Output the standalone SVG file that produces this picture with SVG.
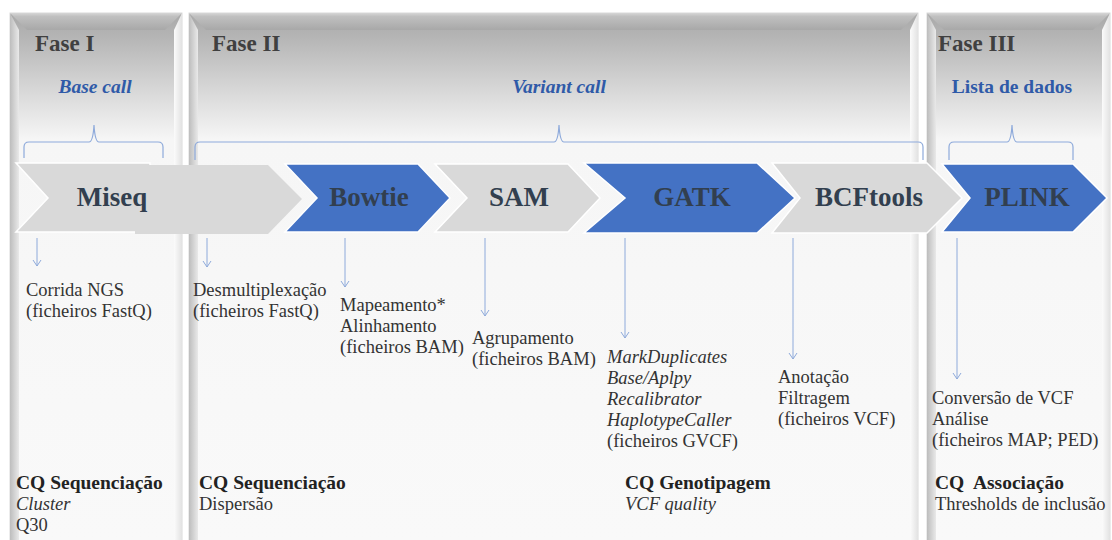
<svg xmlns="http://www.w3.org/2000/svg" width="1112" height="540" viewBox="0 0 1112 540">
<defs>
<linearGradient id="pg" x1="0" y1="13" x2="0" y2="540" gradientUnits="userSpaceOnUse">
<stop offset="0" stop-color="#a9a9a9"/><stop offset="0.04" stop-color="#b3b3b3"/><stop offset="0.13" stop-color="#d2d2d2"/><stop offset="0.24" stop-color="#f6f6f6"/><stop offset="1" stop-color="#f9f9f9"/>
</linearGradient>
<linearGradient id="tb" x1="0" y1="0" x2="0" y2="1">
<stop offset="0" stop-color="#d6d6d6"/><stop offset="0.2" stop-color="#c0c0c0"/><stop offset="1" stop-color="#a8a8a8"/>
</linearGradient>
<linearGradient id="lb" x1="0" y1="0" x2="1" y2="0">
<stop offset="0" stop-color="#bdbdbd"/><stop offset="1" stop-color="#e9e9e9"/>
</linearGradient>
<linearGradient id="rb" x1="0" y1="0" x2="1" y2="0">
<stop offset="0" stop-color="#fbfbfb"/><stop offset="1" stop-color="#e2e2e2"/>
</linearGradient>
<marker id="ah" viewBox="0 0 10 10" refX="9" refY="5" markerWidth="10" markerHeight="10" markerUnits="userSpaceOnUse" orient="auto">
<path d="M3,1 L9,5 L3,9" fill="none" stroke="#8eaadb" stroke-width="1"/>
</marker>
</defs>
<style>
text{font-family:"Liberation Serif","Times New Roman",serif;fill:#333333}
.ph{font-size:23px;font-weight:bold;fill:#404040}
.sub{font-size:19.5px;font-weight:bold;fill:#2f5aa8}
.it{font-style:italic}
.cl{font-size:27px;font-weight:bold;fill:#323f4f}
.b{font-size:18.5px}
.bb{font-size:19.5px;font-weight:bold;fill:#222222}
.gray{fill:#d9d9d9;stroke:#ffffff;stroke-width:1.5}
.blue{fill:#4472c4;stroke:#ffffff;stroke-width:1.5}
.brace{fill:none;stroke:#8eaadb;stroke-width:1.2}
.arr{stroke:#8eaadb;stroke-width:1;marker-end:url(#ah)}
</style>
<rect width="1112" height="540" fill="#ffffff"/>

<g id="fase1">
<rect x="10" y="13" width="172" height="540" fill="url(#pg)" stroke="#d9d9d9"/>
<polygon points="10,13 19,30 19,540 10,540" fill="url(#lb)"/>
<polygon points="182,13 174,30 174,540 182,540" fill="url(#rb)"/>
<polygon points="10,13 182,13 165,30 27,30" fill="url(#tb)"/>
<text class="ph" x="35" y="51">Fase I</text>
<text class="sub it" x="95" y="93" text-anchor="middle">Base call</text>
</g>
<g id="fase2">
<rect x="189" y="13" width="729" height="540" fill="url(#pg)" stroke="#d9d9d9"/>
<polygon points="189,13 198,30 198,540 189,540" fill="url(#lb)"/>
<polygon points="918,13 910,30 910,540 918,540" fill="url(#rb)"/>
<polygon points="189,13 918,13 901,30 206,30" fill="url(#tb)"/>
<text class="ph" x="212" y="51">Fase II</text>
<text class="sub it" x="559" y="93" text-anchor="middle">Variant call</text>
</g>
<g id="fase3">
<rect x="927" y="13" width="183" height="540" fill="url(#pg)" stroke="#d9d9d9"/>
<polygon points="927,13 936,30 936,540 927,540" fill="url(#lb)"/>
<polygon points="1110,13 1102,30 1102,540 1110,540" fill="url(#rb)"/>
<polygon points="927,13 1110,13 1093,30 944,30" fill="url(#tb)"/>
<text class="ph" x="938" y="51">Fase III</text>
<text class="sub" x="1012" y="93" text-anchor="middle">Lista de dados</text>
</g>

<g id="braces">
<path class="brace" d="M24,158 L24,147 Q24,142 29,142 L89,142 Q93,142 94,125 Q95,142 99,142 L158,142 Q163,142 163,147 L163,158"/>
<path class="brace" d="M195,160 L195,147 Q195,142 200,142 L554,142 Q558,142 559,125 Q560,142 564,142 L918,142 Q923,142 923,147 L923,160"/>
<path class="brace" d="M949,160 L949,147 Q949,142 954,142 L1007,142 Q1011,142 1012,125 Q1013,142 1017,142 L1068,142 Q1073,142 1073,147 L1073,160"/>
</g>

<g id="miseq">
<polygon class="gray" points="16,163 150,163 150,232 16,232 48,198"/>
<polygon fill="#d9d9d9" points="135,165 268,165 302,199 268,234 135,234"/>
<text class="cl" x="112" y="206" text-anchor="middle">Miseq</text>
</g>
<g id="bowtie">
<polygon class="blue" points="285,164 418,164 450,198 418,232 285,232 317,198"/>
<text class="cl" x="369" y="206" text-anchor="middle">Bowtie</text>
</g>
<g id="sam">
<polygon class="gray" points="435,164 568,164 600,198 568,232 435,232 467,198"/>
<text class="cl" x="519" y="206" text-anchor="middle">SAM</text>
</g>
<g id="gatk">
<polygon class="blue" points="584,163 757,163 795,198 757,233 584,233 625,198"/>
<text class="cl" x="692" y="206" text-anchor="middle">GATK</text>
</g>
<g id="bcftools">
<polygon class="gray" points="772,163 927,163 962,198 927,233 772,233 800,198"/>
<text class="cl" x="869" y="206" text-anchor="middle">BCFtools</text>
</g>
<g id="plink">
<polygon class="blue" points="942,164 1073,164 1107,198 1073,232 942,232 970,198"/>
<text class="cl" x="1027" y="206" text-anchor="middle">PLINK</text>
</g>

<g id="connectors">
<line class="arr" x1="37" y1="238" x2="37" y2="266"/>
<line class="arr" x1="207" y1="238" x2="207" y2="267"/>
<line class="arr" x1="345" y1="238" x2="345" y2="287"/>
<line class="arr" x1="485" y1="238" x2="485" y2="316"/>
<line class="arr" x1="625" y1="238" x2="625" y2="338"/>
<line class="arr" x1="793" y1="238" x2="793" y2="359"/>
<line class="arr" x1="957" y1="238" x2="957" y2="379"/>
</g>

<g id="desc-miseq">
<text class="b" x="26" y="296">Corrida NGS</text>
<text class="b" x="26" y="317">(ficheiros FastQ)</text>
</g>
<g id="desc-demux">
<text class="b" x="193" y="296">Desmultiplexação</text>
<text class="b" x="193" y="317">(ficheiros FastQ)</text>
</g>
<g id="desc-bowtie">
<text class="b" x="340" y="311">Mapeamento*</text>
<text class="b" x="340" y="332">Alinhamento</text>
<text class="b" x="340" y="353">(ficheiros BAM)</text>
</g>
<g id="desc-sam">
<text class="b" x="472" y="344">Agrupamento</text>
<text class="b" x="472" y="365">(ficheiros BAM)</text>
</g>
<g id="desc-gatk">
<text class="b it" x="607" y="363">MarkDuplicates</text>
<text class="b it" x="607" y="384">Base/Aplpy</text>
<text class="b it" x="607" y="405">Recalibrator</text>
<text class="b it" x="607" y="426">HaplotypeCaller</text>
<text class="b" x="607" y="447">(ficheiros GVCF)</text>
</g>
<g id="desc-bcftools">
<text class="b" x="778" y="383">Anotação</text>
<text class="b" x="778" y="404">Filtragem</text>
<text class="b" x="778" y="425">(ficheiros VCF)</text>
</g>
<g id="desc-plink">
<text class="b" x="932" y="404">Conversão de VCF</text>
<text class="b" x="932" y="425">Análise</text>
<text class="b" x="932" y="446">(ficheiros MAP; PED)</text>
</g>

<g id="qc1">
<text class="bb" x="16" y="489">CQ Sequenciação</text>
<text class="b it" x="16" y="510">Cluster</text>
<text class="b" x="16" y="531">Q30</text>
</g>
<g id="qc2">
<text class="bb" x="199" y="489">CQ Sequenciação</text>
<text class="b" x="199" y="510">Dispersão</text>
</g>
<g id="qc3">
<text class="bb" x="625" y="489">CQ Genotipagem</text>
<text class="b it" x="625" y="510">VCF quality</text>
</g>
<g id="qc4">
<text class="bb" x="935" y="489" xml:space="preserve">CQ  Associação</text>
<text class="b" x="935" y="510">Thresholds de inclusão</text>
</g>
</svg>
